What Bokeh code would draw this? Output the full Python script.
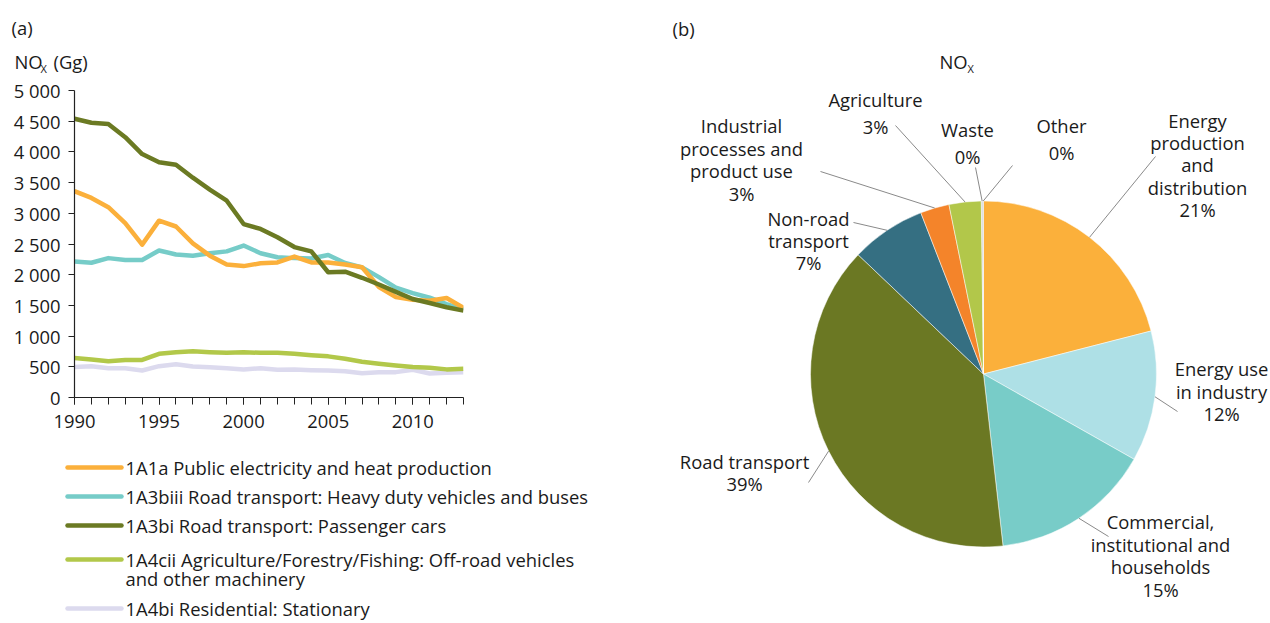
import numpy as np
from bokeh.plotting import figure
from bokeh.layouts import row, column
from bokeh.models import Range1d, SingleIntervalTicker, FixedTicker, ColumnDataSource
from bokeh.embed import file_html
from bokeh.resources import INLINE
from bokeh.core.properties import value

# ---------------- data: panel (a) ----------------
years = list(range(1990, 2014))
public_electricity = [3360, 3250, 3100, 2840, 2490, 2880, 2785, 2510, 2310, 2165, 2140, 2185,
                      2200, 2295, 2200, 2200, 2165, 2120, 1800, 1635, 1590, 1575, 1620, 1460]
heavy_duty = [2215, 2195, 2270, 2240, 2240, 2395, 2330, 2310, 2350, 2380, 2475, 2350,
              2285, 2270, 2265, 2320, 2190, 2120, 1960, 1790, 1700, 1625, 1520, 1440]
passenger_cars = [4540, 4475, 4455, 4240, 3965, 3830, 3790, 3580, 3385, 3205, 2825, 2745,
                  2610, 2450, 2380, 2040, 2050, 1950, 1840, 1720, 1605, 1540, 1470, 1415]
offroad_machinery = [645, 620, 590, 612, 612, 712, 738, 752, 738, 728, 738, 728,
                     728, 712, 688, 670, 630, 582, 550, 522, 495, 485, 458, 468]
residential = [495, 510, 478, 478, 440, 510, 543, 505, 494, 478, 456, 478,
               451, 456, 445, 440, 429, 396, 413, 413, 451, 391, 402, 413]

series_names = ["1A1a Public electricity and heat production",
                "1A3biii Road transport: Heavy duty vehicles and buses",
                "1A3bi Road transport: Passenger cars",
                "1A4cii Agriculture/Forestry/Fishing: Off-road vehicles\nand other machinery",
                "1A4bi Residential: Stationary"]
series_values = [public_electricity, heavy_duty, passenger_cars, offroad_machinery, residential]
series_colors = ["#FBB03B", "#76CCC8", "#6B7A23", "#B2C84A", "#DCDAEE"]
y_ticks = list(range(0, 5001, 500))

# ---------------- data: panel (b) ----------------
sectors = ["Energy production and distribution", "Energy use in industry",
           "Commercial, institutional and households", "Road transport",
           "Non-road transport", "Industrial processes and product use",
           "Agriculture", "Waste", "Other"]
shares = [21.0, 12.2, 15.0, 38.9, 7.0, 2.7, 3.0, 0.15, 0.05]
sector_lines = [["Energy", "production", "and", "distribution"], ["Energy use", "in industry"],
                ["Commercial,", "institutional and", "households"], ["Road transport"],
                ["Non-road", "transport"], ["Industrial", "processes and", "product use"],
                ["Agriculture"], ["Waste"], ["Other"]]
sector_colors = ["#FBB03B", "#AEE0E6", "#78CCC8", "#6B7823", "#356F82", "#F4842A",
                 "#B2C74A", "#C9C9C9", "#9A9A9A"]

FONT = value("Open Sans")
TXT = "#1a1a1a"
FS = "18.4px"
W, H = 1270, 623
LW = 620


def blank(w, h, xr, yr):
    f = figure(width=w, height=h, x_range=Range1d(*xr), y_range=Range1d(*yr),
               toolbar_location=None, output_backend="svg", x_axis_type=None,
               y_axis_type=None, min_border=0, outline_line_color=None)
    f.background_fill_color = "white"
    f.border_fill_color = "white"
    return f


# ---------------- header of (a) ----------------
header = blank(LW, 75, (0, LW), (75, 0))
header.text(x=[11], y=[27], text=["(a)"], text_font=FONT, text_font_size=FS,
            text_color=TXT, text_baseline="middle", text_align="left")
header.text(x=[14, 53], y=[61, 61], text=["NO", "(Gg)"], text_font=FONT, text_font_size=FS,
            text_color=TXT, text_baseline="middle", text_align="left")
header.text(x=[40], y=[68], text=["X"], text_font=FONT, text_font_size="11px",
            text_color=TXT, text_baseline="middle", text_align="left")

# ---------------- line chart ----------------
lp = figure(width=LW, height=372, x_range=Range1d(1990, 2013), y_range=Range1d(0, 5000),
            toolbar_location=None, output_backend="svg", outline_line_color=None)
lp.min_border_left = 74
lp.min_border_right = 157
lp.min_border_top = 15
lp.min_border_bottom = 50
lp.grid.visible = False
lp.background_fill_color = "white"
lp.border_fill_color = "white"

order = [4, 3, 1, 0, 2]
for i in order:
    lp.line(years, series_values[i], line_color=series_colors[i], line_width=4.5,
            line_join="round")

lp.xaxis.ticker = SingleIntervalTicker(interval=5, num_minor_ticks=5)
lp.yaxis.ticker = FixedTicker(ticks=y_ticks)
lp.yaxis.major_label_overrides = {v: f"{v:,}".replace(",", " ") for v in y_ticks}
for ax in (lp.xaxis[0], lp.yaxis[0]):
    ax.axis_line_color = "#222222"
    ax.axis_line_width = 1.2
    ax.major_tick_line_color = "#222222"
    ax.minor_tick_line_color = "#222222"
    ax.major_tick_in = 0
    ax.minor_tick_in = 0
    ax.major_label_text_font = "Open Sans"
    ax.major_label_text_font_size = FS
    ax.major_label_text_color = TXT
lp.xaxis.major_tick_out = 7
lp.xaxis.minor_tick_out = 7
lp.xaxis.major_label_standoff = 10
lp.yaxis.major_tick_out = 6
lp.yaxis.minor_tick_line_color = None
lp.yaxis.major_label_standoff = 8

# ---------------- legend of (a) ----------------
leg = blank(LW, H - 75 - 372, (0, LW), (H, 447))
row_y = [467, 496, 525, 559, 608]
line_gap = 19
for name, c, yy in zip(series_names, series_colors, row_y):
    leg.segment(x0=[67], y0=[yy], x1=[121], y1=[yy], line_color=c, line_width=4.5,
                line_cap="round")
    parts = name.split("\n")
    leg.text(x=[125] * len(parts), y=[yy + k * line_gap for k in range(len(parts))],
             text=parts, text_font=FONT, text_font_size=FS, text_color=TXT,
             text_baseline="middle", text_align="left")

# ---------------- pie chart (b) ----------------
PB = H  # data y = PB - picture y
pie = blank(W - LW, H, (LW, W), (0, H))
cx, cy, r = 983, PB - 373.5, 173

fr = np.array(shares) / sum(shares)
cum = np.concatenate([[0.0], np.cumsum(fr)])
a_start = np.pi / 2 - 2 * np.pi * cum[:-1]
a_end = np.pi / 2 - 2 * np.pi * cum[1:]
src = ColumnDataSource(dict(start=a_end, end=a_start, color=sector_colors, name=sectors))
pie.wedge(x=cx, y=cy, radius=r, start_angle="start", end_angle="end", fill_color="color",
          line_color="white", line_width=0.5, source=src)

mid = np.pi / 2 - 2 * np.pi * (cum[:-1] + fr / 2)
ex = cx + r * np.cos(mid)
ey = cy + r * np.sin(mid)

# label layout (picture coordinates of first line, line spacing, leader outer end)
label_pos = [(1197, 120), (1221, 368), (1160, 521), (744, 461), (808, 218), (741, 125),
             (875, 99), (967, 129), (1061, 125)]
label_gap = [22.2, 22.5, 22.7, 22, 22, 22.7, 27, 27, 27]
leader_out = [(1155, 156), (1177, 411), (1108, 536), (808, 482), (853, 222), (820, 171),
              (895, 125), (975, 167), (1012, 165)]

pct = [f"{int(v * 100 + 0.5)}%" for v in fr]
tx, ty, tt = [], [], []
for lines, p, (lx, lyy), g in zip(sector_lines, pct, label_pos, label_gap):
    for k, s in enumerate(lines + [p]):
        tx.append(lx)
        ty.append(PB - (lyy + k * g))
        tt.append(s)
pie.text(x=tx, y=ty, text=tt, text_font=FONT, text_font_size=FS, text_color=TXT,
         text_align="center", text_baseline="middle")

pie.segment(x0=[p[0] for p in leader_out], y0=[PB - p[1] for p in leader_out],
            x1=list(ex), y1=list(ey), line_color="#8a8a8a", line_width=1)

pie.text(x=[672], y=[PB - 28], text=["(b)"], text_font=FONT, text_font_size=FS,
         text_color=TXT, text_align="left", text_baseline="middle")
pie.text(x=[939], y=[PB - 61], text=["NO"], text_font=FONT, text_font_size=FS,
         text_color=TXT, text_align="left", text_baseline="middle")
pie.text(x=[967], y=[PB - 68], text=["X"], text_font=FONT, text_font_size="11px",
         text_color=TXT, text_align="left", text_baseline="middle")

layout = row(column(row(header), row(lp), row(leg)), pie)
open("out.html", "w").write(file_html(layout, INLINE))
